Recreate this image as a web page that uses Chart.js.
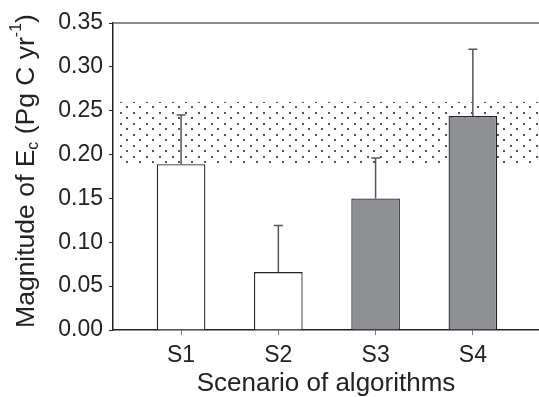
<!DOCTYPE html>
<html>
<head>
<meta charset="utf-8">
<script src="https://cdn.jsdelivr.net/npm/chart.js@4.4.0/dist/chart.umd.min.js"></script>
<style>
  html, body { margin: 0; padding: 0; background: #fff; overflow: hidden; }
</style>
</head>
<body>
<canvas id="chart" width="539" height="397"></canvas>
<script>
// Data
const categories = ["S1", "S2", "S3", "S4"];
const positions = [1, 2, 3, 4];
const magnitude = [0.189, 0.066, 0.150, 0.244];
const errorTop = [0.245, 0.119, 0.196, 0.320];   // upper end of each error bar
const bandRange = [0.19, 0.26];                   // dotted reference band
const yTicks = [0, 0.05, 0.10, 0.15, 0.20, 0.25, 0.30, 0.35];
const barColors = ["#ffffff", "#ffffff", "#8f9094", "#8f9094"];

const FONT = '"Liberation Sans", Arial, sans-serif';
const INK = "#222";

// small staggered dot tile for the band
function dotPattern(ctx) {
    const tile = document.createElement("canvas");
    tile.width = 13;
    tile.height = 11;
    const t = tile.getContext("2d");
    t.fillStyle = "#1a1a1a";
    t.fillRect(3, 2, 2, 2);
    t.fillRect(9, 7, 2, 2);
    return ctx.createPattern(tile, "repeat");
}

const decorations = {
    id: "decorations",
    beforeDatasetsDraw(chart) {
        const { ctx, chartArea: a, scales: { y } } = chart;
        const top = y.getPixelForValue(bandRange[1]);
        const bottom = y.getPixelForValue(bandRange[0]);
        ctx.save();
        ctx.globalAlpha = 0.75;
        ctx.fillStyle = dotPattern(ctx);
        ctx.fillRect(a.left + 2, top, a.right - a.left - 2, bottom - top);
        ctx.restore();
    },
    afterDatasetsDraw(chart) {
        const { ctx, chartArea: a, scales: { y } } = chart;
        const meta = chart.getDatasetMeta(0);
        ctx.save();
        // error bars (upper whisker only)
        ctx.strokeStyle = "#555";
        ctx.lineWidth = 1.5;
        meta.data.forEach((bar, i) => {
            const yTop = y.getPixelForValue(errorTop[i]);
            ctx.beginPath();
            ctx.moveTo(bar.x, bar.y);
            ctx.lineTo(bar.x, yTop);
            ctx.moveTo(bar.x - 4.5, yTop);
            ctx.lineTo(bar.x + 4.5, yTop);
            ctx.stroke();
        });
        // top frame line
        ctx.strokeStyle = "#666";
        ctx.lineWidth = 1.5;
        ctx.beginPath();
        ctx.moveTo(a.left, a.top);
        ctx.lineTo(a.right, a.top);
        ctx.stroke();
        ctx.restore();
    },
    afterDraw(chart) {
        // y axis title with sub/superscript
        const { ctx } = chart;
        const big = "26.5px " + FONT;
        const small = "16px " + FONT;
        const parts = [
            { text: "Magnitude of E", font: big, dy: 0 },
            { text: "c", font: small, dy: 7 },
            { text: " (Pg C yr", font: big, dy: 0 },
            { text: "-1", font: small, dy: -10 },
            { text: ")", font: big, dy: 0 }
        ];
        ctx.save();
        ctx.fillStyle = INK;
        ctx.textBaseline = "middle";
        let total = 0;
        parts.forEach(p => { ctx.font = p.font; p.w = ctx.measureText(p.text).width; total += p.w; });
        ctx.translate(27, 171);
        ctx.rotate(-Math.PI / 2);
        let x = -total / 2;
        parts.forEach(p => {
            ctx.font = p.font;
            ctx.fillText(p.text, x, p.dy);
            x += p.w;
        });
        ctx.restore();
    }
};

new Chart(document.getElementById("chart"), {
    type: "bar",
    data: {
        datasets: [{
            data: positions.map((x, i) => ({ x: x, y: magnitude[i] })),
            backgroundColor: barColors,
            borderColor: INK,
            borderWidth: 1.3,
            barPercentage: 0.5,
            categoryPercentage: 1
        }]
    },
    options: {
        responsive: false,
        animation: false,
        layout: { padding: { top: 23, right: 0, bottom: 0, left: 0 } },
        plugins: { legend: { display: false }, tooltip: { enabled: false } },
        scales: {
            x: {
                type: "linear",
                min: 0.3,
                max: 4.68,
                offset: false,
                afterBuildTicks: s => { s.ticks = positions.map(v => ({ value: v })); },
                afterFit: s => { s.height = 67; },
                ticks: {
                    callback: (v, i) => categories[i],
                    font: { family: FONT, size: 23, lineHeight: 1.2 },
                    color: INK,
                    padding: 7,
                    maxRotation: 0,
                    autoSkip: false
                },
                grid: { offset: false, drawOnChartArea: false, tickLength: 5, color: "#777" },
                border: { color: INK, width: 1.5 },
                title: {
                    display: true,
                    text: "Scenario of algorithms",
                    font: { family: FONT, size: 26, lineHeight: 1 },
                    color: INK,
                    padding: 0
                }
            },
            y: {
                min: 0,
                max: 0.35,
                afterBuildTicks: s => { s.ticks = yTicks.map(v => ({ value: v })); },
                afterFit: s => { s.width = 113; },
                ticks: {
                    callback: v => v.toFixed(2),
                    font: { family: FONT, size: 23, lineHeight: 1.2 },
                    color: INK,
                    padding: 6
                },
                grid: { drawOnChartArea: false, tickLength: 4, color: INK },
                border: { color: INK, width: 1.5 }
            }
        }
    },
    plugins: [decorations]
});
</script>
</body>
</html>
